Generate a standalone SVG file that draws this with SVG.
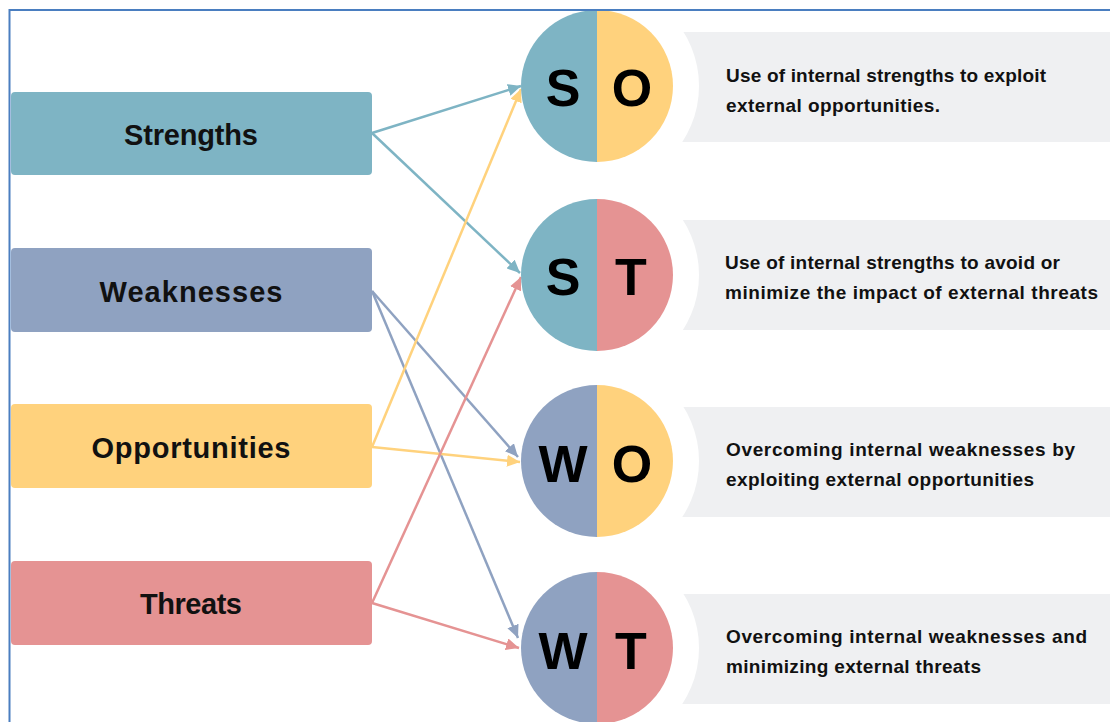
<svg xmlns="http://www.w3.org/2000/svg" width="1110" height="722" viewBox="0 0 1110 722">
<defs>
<style>
.lbl{font-family:"Liberation Sans",Arial,sans-serif;font-weight:bold;font-size:29px;fill:#111;text-anchor:middle}
.let{font-family:"Liberation Sans",Arial,sans-serif;font-weight:bold;font-size:52px;fill:#000;text-anchor:middle}
.desc{font-family:"Liberation Sans",Arial,sans-serif;font-weight:bold;font-size:19px;fill:#111}
.panel{fill:#EFF0F2}
.halo{fill:#fff}
.c{fill:none;stroke-width:2.5}
</style>
<marker id="aS" markerUnits="userSpaceOnUse" markerWidth="14" markerHeight="12" refX="13" refY="6" orient="auto"><path d="M0,0 L13,6 L0,12 z" fill="#7EB4C4"/></marker>
<marker id="aW" markerUnits="userSpaceOnUse" markerWidth="14" markerHeight="12" refX="13" refY="6" orient="auto"><path d="M0,0 L13,6 L0,12 z" fill="#8FA2C1"/></marker>
<marker id="aO" markerUnits="userSpaceOnUse" markerWidth="14" markerHeight="12" refX="13" refY="6" orient="auto"><path d="M0,0 L13,6 L0,12 z" fill="#FFD27D"/></marker>
<marker id="aT" markerUnits="userSpaceOnUse" markerWidth="14" markerHeight="12" refX="13" refY="6" orient="auto"><path d="M0,0 L13,6 L0,12 z" fill="#E59393"/></marker>
</defs>
<rect width="1110" height="722" fill="#fff"/>
<g id="panels">
<rect class="panel" x="680" y="32" width="430" height="110"/>
<rect class="panel" x="680" y="220" width="430" height="110"/>
<rect class="panel" x="680" y="407" width="430" height="110"/>
<rect class="panel" x="680" y="594" width="430" height="110"/>
<circle class="halo" cx="597" cy="86" r="102"/>
<circle class="halo" cx="597" cy="275" r="102"/>
<circle class="halo" cx="597" cy="461" r="102"/>
<circle class="halo" cx="597" cy="648" r="102"/>
</g>
<g id="connectors">
<line class="c" x1="372" y1="133" x2="521" y2="86" stroke="#7EB4C4" marker-end="url(#aS)"/>
<line class="c" x1="372" y1="133" x2="520" y2="273" stroke="#7EB4C4" marker-end="url(#aS)"/>
<line class="c" x1="372" y1="291" x2="518" y2="457" stroke="#8FA2C1" marker-end="url(#aW)"/>
<line class="c" x1="372" y1="291" x2="518" y2="638" stroke="#8FA2C1" marker-end="url(#aW)"/>
<line class="c" x1="372" y1="447" x2="521" y2="89" stroke="#FFD27D" marker-end="url(#aO)"/>
<line class="c" x1="372" y1="447" x2="520" y2="462" stroke="#FFD27D" marker-end="url(#aO)"/>
<line class="c" x1="372" y1="603" x2="521" y2="277" stroke="#E59393" marker-end="url(#aT)"/>
<line class="c" x1="372" y1="603" x2="519" y2="648" stroke="#E59393" marker-end="url(#aT)"/>
</g>
<g id="strengths">
<rect x="11" y="92" width="361" height="83" rx="4" fill="#7EB4C4"/>
<text class="lbl" x="191" y="145" textLength="134">Strengths</text>
</g>
<g id="weaknesses">
<rect x="11" y="248" width="361" height="84" rx="4" fill="#8FA2C1"/>
<text class="lbl" x="191" y="302" textLength="183">Weaknesses</text>
</g>
<g id="opportunities">
<rect x="11" y="404" width="361" height="84" rx="4" fill="#FFD27D"/>
<text class="lbl" x="191" y="458" textLength="199">Opportunities</text>
</g>
<g id="threats">
<rect x="11" y="561" width="361" height="84" rx="4" fill="#E59393"/>
<text class="lbl" x="191" y="614" textLength="102">Threats</text>
</g>
<g id="so">
<path d="M597,10 A76,76 0 0 0 597,162 Z" fill="#7EB4C4"/>
<path d="M597,10 A76,76 0 0 1 597,162 Z" fill="#FFD27D"/>
<text class="let" x="563" y="106">S</text>
<text class="let" x="632" y="106">O</text>
<text class="desc" x="726" y="82" textLength="320">Use of internal strengths to exploit</text>
<text class="desc" x="726" y="112" textLength="214">external opportunities.</text>
</g>
<g id="st">
<path d="M597,199 A76,76 0 0 0 597,351 Z" fill="#7EB4C4"/>
<path d="M597,199 A76,76 0 0 1 597,351 Z" fill="#E59393"/>
<text class="let" x="563" y="295">S</text>
<text class="let" x="631" y="295">T</text>
<text class="desc" x="725" y="269" textLength="335">Use of internal strengths to avoid or</text>
<text class="desc" x="725" y="299" textLength="373">minimize the impact of external threats</text>
</g>
<g id="wo">
<path d="M597,385 A76,76 0 0 0 597,537 Z" fill="#8FA2C1"/>
<path d="M597,385 A76,76 0 0 1 597,537 Z" fill="#FFD27D"/>
<text class="let" x="563" y="482">W</text>
<text class="let" x="632" y="482">O</text>
<text class="desc" x="726" y="456" textLength="349">Overcoming internal weaknesses by</text>
<text class="desc" x="726" y="486" textLength="308">exploiting external opportunities</text>
</g>
<g id="wt">
<path d="M597,572 A76,76 0 0 0 597,724 Z" fill="#8FA2C1"/>
<path d="M597,572 A76,76 0 0 1 597,724 Z" fill="#E59393"/>
<text class="let" x="563" y="669">W</text>
<text class="let" x="631" y="669">T</text>
<text class="desc" x="726" y="643" textLength="361">Overcoming internal weaknesses and</text>
<text class="desc" x="726" y="673" textLength="255">minimizing external threats</text>
</g>
<g id="frame" fill="none" stroke="#4A7EC0" stroke-width="2">
<path d="M9.5,722 L9.5,10 L1110,10"/>
</g>
</svg>
